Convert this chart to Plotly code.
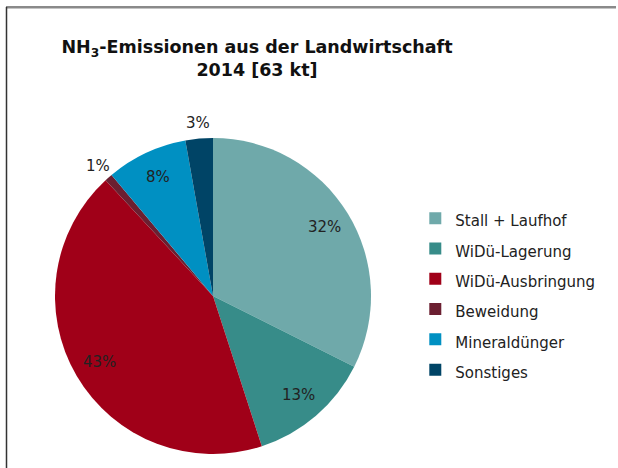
import math
import plotly.graph_objects as go

categories = ["Stall + Laufhof", "WiDü-Lagerung", "WiDü-Ausbringung", "Beweidung", "Mineraldünger", "Sonstiges"]
values = [32.4, 12.6, 43.1, 0.8, 8.3, 2.8]
colors = ["#6FA9AA", "#378C89", "#A00018", "#6B1F31", "#0090C2", "#004466"]
label_inside = [True, True, True, False, True, False]
title_text = "NH<sub>3</sub>-Emissionen aus der Landwirtschaft<br>2014 [63 kt]"

W, H = 618, 468
cx, cy, r = 213, 296, 158

legend_labels = ['<span style="font-size:15px">%s</span>' % c for c in categories]

fig = go.Figure(go.Pie(
    labels=legend_labels,
    values=values,
    sort=False,
    direction="clockwise",
    rotation=0,
    marker=dict(colors=colors, line=dict(width=0)),
    textinfo="none",
    domain=dict(x=[(cx - r) / W, (cx + r) / W], y=[(H - cy - r) / H, (H - cy + r) / H]),
    hoverinfo="label+percent",
))

# percentage labels placed along each slice's middle angle (derived from the values)
total = sum(values)
annotations = []
cum = 0.0
for v, inside in zip(values, label_inside):
    mid = (cum + v / 2) / total
    cum += v
    ang = 2 * math.pi * mid
    rf = 0.83 if inside else 1.1
    px = cx + rf * r * math.sin(ang)
    py = cy - rf * r * math.cos(ang)
    annotations.append(dict(
        x=px / W, y=1 - py / H, xref="paper", yref="paper",
        text="%d%%" % round(100 * v / total), showarrow=False,
        xanchor="center", yanchor="middle",
        font=dict(family="DejaVu Sans", size=15, color="#222222"),
    ))

fig.update_layout(
    width=W, height=H,
    margin=dict(l=0, r=0, t=0, b=0),
    paper_bgcolor="white",
    font=dict(family="DejaVu Sans", color="#222222"),
    title=dict(
        text=title_text,
        x=257 / W, xanchor="center",
        y=1 - 53 / H, yanchor="middle",
        xref="paper", yref="paper",
        font=dict(family="DejaVu Sans", size=17.5, color="#111111", weight="bold"),
    ),
    legend=dict(
        x=0.672, xanchor="left",
        y=1 - 198 / H, yanchor="top",
        font=dict(family="DejaVu Sans", size=21, color="#222222"),
        bgcolor="rgba(0,0,0,0)",
    ),
    annotations=annotations,
    shapes=[
        dict(type="rect", xref="paper", yref="paper", x0=6 / W, x1=616 / W, y0=1 - 8.5 / H, y1=1 - 6 / H,
             fillcolor="#8A8A8A", line=dict(width=0), layer="above"),
        dict(type="line", xref="paper", yref="paper", x0=6.5 / W, x1=6.5 / W, y0=0, y1=1 - 7 / H,
             line=dict(color="#333333", width=1.5)),
    ],
)

fig.write_html("out.html", config={"displayModeBar": False},
               post_script="document.body.style.margin='0';document.body.style.overflow='hidden';")
